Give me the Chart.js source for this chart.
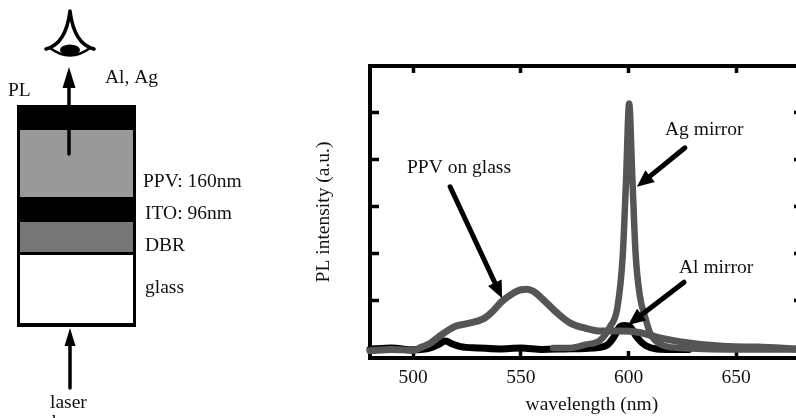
<!DOCTYPE html>
<html>
<head>
<meta charset="utf-8">
<style>
  html, body { margin: 0; padding: 0; background: #fff; overflow: hidden; }
  #wrap { position: absolute; left: 0; top: 0; width: 796px; height: 418px; overflow: hidden; }
  canvas { position: absolute; left: 0; top: 0; }
</style>
<script src="https://cdn.jsdelivr.net/npm/chart.js@4/dist/chart.umd.min.js"></script>
</head>
<body>
<div id="wrap"><canvas id="plChart" width="804" height="418" style="width:804px;height:418px"></canvas></div>
<script>
// ============ DATA ============

const alWavelengths = [480, 490, 500, 508, 512, 515, 518, 522, 530, 540, 550, 560, 570, 580, 586, 590, 593, 596, 598, 600.7, 604, 608, 613, 620, 628];
const alValues = [-0.03, 0.0, -0.04, 0.0, 0.08, 0.15, 0.09, 0.03, 0.0, -0.02, 0.0, -0.03, -0.02, -0.01, 0.01, 0.06, 0.22, 0.45, 0.48, 0.45, 0.22, 0.05, -0.02, -0.03, -0.03];

const ppvWavelengths = [480, 490, 500, 504, 508, 512, 516, 520, 524, 533, 537, 541, 547, 550, 553, 556, 559, 567, 573, 580, 587, 596, 605, 615, 629, 646, 660, 678];
const ppvValues = [-0.06, -0.03, -0.05, 0.02, 0.1, 0.24, 0.37, 0.47, 0.51, 0.63, 0.78, 0.98, 1.18, 1.24, 1.25, 1.2, 1.09, 0.74, 0.53, 0.42, 0.36, 0.36, 0.33, 0.21, 0.1, 0.03, 0.02, -0.02];

const agWavelengths = [565, 573, 580, 587, 591.4, 594.8, 597.3, 598.8, 600.3, 601.8, 603.3, 605.3, 607.7, 610, 613.7, 624, 650, 678];
const agValues = [0.0, 0.0, 0.07, 0.17, 0.45, 0.85, 1.95, 3.5, 5.2, 3.6, 2.0, 1.1, 0.66, 0.32, 0.11, 0.0, -0.03, -0.03];

const xTicks = [500, 550, 600, 650];
const yTicks = [0, 1, 2, 3, 4, 5];

// arrows in data units: [x from, y from, x to, y to]
const ppvArrow = [517.2, 3.43, 541.3, 1.06];
const agArrow = [626.2, 4.26, 603.9, 3.43];
const alArrow = [625.8, 1.40, 599.8, 0.49];

const SERIF = '"Liberation Serif", "Times New Roman", serif';
const INK = '#111';
const TEXT_SIZE = 19.5;

// ============ CANVAS HELPERS ============

function toPoints(xs, ys) {
  return xs.map((x, i) => ({ x: x, y: ys[i] }));
}

function arrow(ctx, x1, y1, x2, y2, width, headLen, headWidth) {
  const a = Math.atan2(y2 - y1, x2 - x1);
  const bx = x2 - Math.cos(a) * headLen;
  const by = y2 - Math.sin(a) * headLen;
  ctx.strokeStyle = '#000';
  ctx.fillStyle = '#000';
  ctx.lineWidth = width;
  ctx.lineCap = 'round';
  ctx.beginPath();
  ctx.moveTo(x1, y1);
  ctx.lineTo(bx, by);
  ctx.stroke();
  ctx.beginPath();
  ctx.moveTo(x2, y2);
  ctx.lineTo(bx - Math.sin(a) * headWidth / 2, by + Math.cos(a) * headWidth / 2);
  ctx.lineTo(bx + Math.sin(a) * headWidth / 2, by - Math.cos(a) * headWidth / 2);
  ctx.closePath();
  ctx.fill();
}

function label(ctx, text, x, y) {
  ctx.fillStyle = INK;
  ctx.fillText(text, x, y);
}

function drawEye(ctx) {
  ctx.strokeStyle = '#000';
  ctx.lineCap = 'round';
  ctx.lineJoin = 'round';
  ctx.lineWidth = 3.5;
  ctx.beginPath();
  ctx.moveTo(46, 49);
  ctx.quadraticCurveTo(66, 44, 70, 11);
  ctx.quadraticCurveTo(74, 44, 94, 49);
  ctx.stroke();
  ctx.lineWidth = 2.5;
  ctx.beginPath();
  ctx.moveTo(50, 48);
  ctx.quadraticCurveTo(70, 63, 90, 48);
  ctx.stroke();
  ctx.fillStyle = '#000';
  ctx.beginPath();
  ctx.ellipse(70, 50, 10, 5.5, 0, 0, Math.PI * 2);
  ctx.fill();
}

function drawStack(ctx) {
  const layers = [
    [105, 25, '#000'],
    [130, 67, '#999'],
    [197, 25, '#000'],
    [222, 31, '#777'],
    [253, 72, '#fff']
  ];
  layers.forEach(l => {
    ctx.fillStyle = l[2];
    ctx.fillRect(17, l[0], 119, l[1]);
  });
  ctx.fillStyle = '#000';
  ctx.fillRect(17, 105, 3, 222);
  ctx.fillRect(133, 105, 3, 222);
  ctx.fillRect(17, 252, 119, 3);
  ctx.fillRect(17, 323, 119, 4);
  arrow(ctx, 69, 154, 69, 67, 3.5, 21, 13);
  arrow(ctx, 70, 388, 70, 328, 3.5, 18, 11);
}

const extrasPlugin = {
  id: 'extras',
  afterDraw(chart) {
    const ctx = chart.ctx;
    const sx = chart.scales.x;
    const sy = chart.scales.y;
    ctx.save();
    drawStack(ctx);
    drawEye(ctx);

    [ppvArrow, agArrow, alArrow].forEach(a => {
      arrow(ctx, sx.getPixelForValue(a[0]), sy.getPixelForValue(a[1]),
        sx.getPixelForValue(a[2]), sy.getPixelForValue(a[3]), 5, 17, 15);
    });

    ctx.font = TEXT_SIZE + 'px ' + SERIF;
    ctx.textBaseline = 'alphabetic';
    ctx.textAlign = 'left';
    label(ctx, 'Al, Ag', 105, 83);
    label(ctx, 'PL', 8, 96);
    label(ctx, 'PPV: 160nm', 143, 187);
    label(ctx, 'ITO: 96nm', 145, 219);
    label(ctx, 'DBR', 145, 251);
    label(ctx, 'glass', 145, 293);
    label(ctx, 'laser', 50, 408);
    label(ctx, 'beam', 52, 428);
    label(ctx, 'Ag mirror', 665, 135);
    label(ctx, 'PPV on glass', 407, 173);
    label(ctx, 'Al mirror', 679, 273);
    ctx.textAlign = 'center';
    label(ctx, 'wavelength (nm)', sx.getPixelForValue(583), 410);
    ctx.restore();
  }
};

// ============ CHART ============

function fixedTicks(values) {
  return axis => { axis.ticks = values.map(v => ({ value: v })); };
}

function axisLine(tickLength) {
  return {
    drawOnChartArea: false,
    drawTicks: true,
    tickLength: tickLength,
    tickWidth: 3.5,
    tickColor: '#000'
  };
}

new Chart(document.getElementById('plChart'), {
  type: 'line',
  data: {
    datasets: [
      { label: 'Ag mirror', data: toPoints(agWavelengths, agValues), borderColor: '#555', borderWidth: 6.5, cubicInterpolationMode: 'monotone', clip: false },
      { label: 'PPV on glass', data: toPoints(ppvWavelengths, ppvValues), borderColor: '#555', borderWidth: 7, cubicInterpolationMode: 'monotone', clip: false },
      { label: 'Al mirror', data: toPoints(alWavelengths, alValues), borderColor: '#000', borderWidth: 7, cubicInterpolationMode: 'monotone', clip: false }
    ]
  },
  options: {
    responsive: false,
    animation: false,
    layout: { padding: { left: 312, right: 0, top: 0, bottom: 0 } },
    plugins: { legend: { display: false }, tooltip: { enabled: false } },
    elements: { point: { radius: 0 }, line: { borderCapStyle: 'round', borderJoinStyle: 'round' } },
    scales: {
      x: {
        type: 'linear',
        position: 'bottom',
        min: 480,
        max: 681,
        afterBuildTicks: fixedTicks(xTicks),
        afterFit: s => { s.height = 60; },
        border: { color: '#000', width: 4 },
        grid: axisLine(-7),
        ticks: { color: INK, font: { family: SERIF, size: TEXT_SIZE }, padding: 15, maxRotation: 0 }
      },
      xTop: {
        type: 'linear',
        axis: 'x',
        position: 'top',
        min: 480,
        max: 681,
        afterBuildTicks: fixedTicks(xTicks),
        afterFit: s => { s.height = 66; },
        border: { color: '#000', width: 4 },
        grid: axisLine(-7),
        ticks: { display: false }
      },
      y: {
        type: 'linear',
        position: 'left',
        min: -0.213,
        max: 6,
        afterBuildTicks: fixedTicks(yTicks),
        afterFit: s => { s.width = 58; },
        border: { color: '#000', width: 4 },
        grid: axisLine(-9),
        ticks: { display: false },
        title: { display: true, text: 'PL intensity (a.u.)', color: INK, font: { family: SERIF, size: TEXT_SIZE }, padding: 0 }
      },
      yRight: {
        type: 'linear',
        axis: 'y',
        position: 'right',
        min: -0.213,
        max: 6,
        afterBuildTicks: fixedTicks(yTicks),
        afterFit: s => { s.width = 1; },
        border: { color: '#000', width: 4 },
        grid: axisLine(-9),
        ticks: { display: false }
      }
    }
  },
  plugins: [extrasPlugin]
});
</script>
</body>
</html>
